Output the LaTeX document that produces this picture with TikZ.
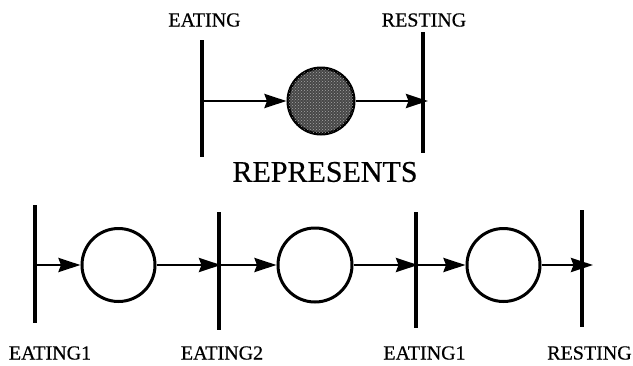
\documentclass[tikz,border=0pt]{standalone}
\usepackage{fontspec}
\setmainfont{Liberation Serif}[FakeBold=0.5]
\usetikzlibrary{arrows.meta,patterns}
\begin{document}
\begin{tikzpicture}[x=1pt,y=-1pt,
  bar/.style={draw=none,fill=black,inner sep=0pt,minimum width=3.5pt},
  place/.style={circle,draw=black,line width=3pt,inner sep=0pt},
  token/.style={place,fill=black!72,postaction={pattern=crosshatch dots,pattern color=black!35}},
  arr/.style={line width=2.8pt,-{Stealth[length=22pt,width=14pt,inset=2.5pt]}},
  lbl/.style={inner sep=0pt,font=\fontsize{20}{22}\selectfont},
  big/.style={inner sep=0pt,font=\fontsize{30}{32}\selectfont}]
\useasboundingbox (0,0) rectangle (633,365);
% top net
\node[bar,minimum height=117pt] (t1) at (202,98.5) {};
\node[bar,minimum height=121pt] (t2) at (423,92.5) {};
\node[token,minimum size=66pt] (tc) at (321,101) {};
\coordinate (t2end) at (428,101);
\draw[arr] (t1 |- tc) -- (tc.west);
\draw[arr] (tc.east) -- (t2end);
\node[lbl] (lEat) at (204.5,20) {EATING};
\node[lbl] (lRest) at (424,20) {RESTING};
\node[big] (rep) at (325,172) {REPRESENTS};
% bottom net
\node[bar,minimum height=118pt] (b1) at (35,264) {};
\node[bar,minimum height=118pt] (b2) at (219,271) {};
\node[bar,minimum height=116pt] (b3) at (416,270) {};
\node[bar,minimum height=117pt] (b4) at (582,268.5) {};
\node[place,minimum size=73pt] (c1) at (118.5,265) {};
\node[place,minimum size=74pt] (c2) at (315,265) {};
\node[place,minimum size=73pt] (c3) at (503.5,265) {};
\coordinate (e2) at (221,265);
\coordinate (e3) at (418,265);
\coordinate (e4) at (593,265);
\draw[arr] (b1 |- c1) -- (c1.west);
\draw[arr] (c1.east) -- (e2);
\draw[arr] (b2 |- c2) -- (c2.west);
\draw[arr] (c2.east) -- (e3);
\draw[arr] (b3 |- c3) -- (c3.west);
\draw[arr] (c3.east) -- (e4);
\node[lbl] (l1) at (50,353) {EATING1};
\node[lbl] (l2) at (222,353) {EATING2};
\node[lbl] (l3) at (424.5,353) {EATING1};
\node[lbl] (l4) at (589.5,353) {RESTING};
\end{tikzpicture}
\end{document}
